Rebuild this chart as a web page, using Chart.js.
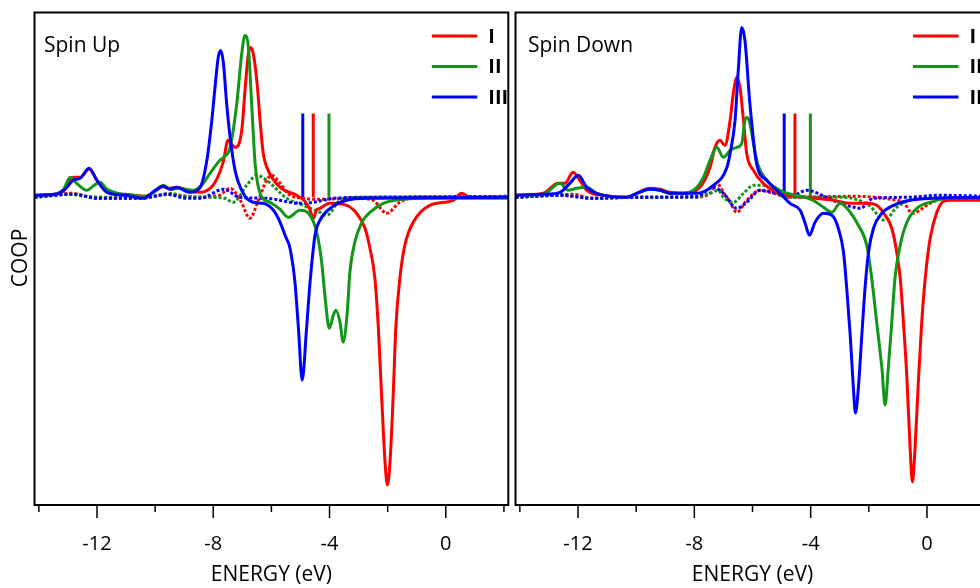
<!DOCTYPE html>
<html>
<head>
<meta charset="utf-8">
<script src="https://cdn.jsdelivr.net/npm/chart.js@4.4.1/dist/chart.umd.min.js"></script>
<style>
  html, body { margin: 0; padding: 0; background: #fff; overflow: hidden; }
  #wrap { position: relative; width: 980px; height: 588px; overflow: hidden; }
  #up { position: absolute; left: 0; top: 0; }
  #down { position: absolute; left: 512px; top: 0; }
</style>
</head>
<body>
<div id="wrap">
  <canvas id="up" width="512" height="588"></canvas>
  <canvas id="down" width="480" height="588"></canvas>
</div>
<script>
// energy (eV), COOP (arb. units)
const seriesNames = ["I", "II", "III"];
const tickLabels = ["-12", "-8", "-4", "0"];

// Spin Up, solid
const upI = [[-14.15,0],[-13.44,0.01],[-13.1,0.06],[-12.82,0.18],[-12.58,0.18],[-12.27,0.26],[-12.0,0.15],[-11.65,0.03],[-11.03,0.01],[-10.35,-0.01],[-10.0,0.04],[-9.73,0.085],[-9.49,0.07],[-9.25,0.08],[-8.8,0.04],[-8.46,0.03],[-8.11,0.07],[-7.9,0.15],[-7.66,0.33],[-7.49,0.55],[-7.25,0.48],[-7.02,0.65],[-6.9,1.08],[-6.79,1.42],[-6.7,1.48],[-6.6,1.38],[-6.48,1.08],[-6.39,0.75],[-6.28,0.42],[-6.11,0.25],[-5.7,0.08],[-5.13,0.0],[-4.85,-0.06],[-4.68,-0.14],[-4.56,-0.23],[-4.45,-0.15],[-4.33,-0.13],[-3.98,-0.08],[-3.41,-0.1],[-3.07,-0.18],[-2.78,-0.33],[-2.61,-0.53],[-2.44,-0.83],[-2.32,-1.33],[-2.21,-2.0],[-2.09,-2.67],[-2.01,-2.9],[-1.92,-2.67],[-1.81,-2.0],[-1.72,-1.33],[-1.58,-0.83],[-1.41,-0.5],[-1.12,-0.27],[-0.55,-0.1],[0.25,-0.05],[0.54,0.02],[0.83,-0.02],[2.15,-0.02]];
const upII = [[-14.15,0],[-13.44,0.01],[-13.15,0.06],[-12.92,0.18],[-12.7,0.12],[-12.35,0.05],[-12.1,0.1],[-11.9,0.13],[-11.65,0.06],[-11.3,0.02],[-10.35,-0.01],[-10.0,0.04],[-9.72,0.1],[-9.45,0.06],[-9.2,0.07],[-8.7,0.05],[-8.4,0.1],[-8.11,0.22],[-7.77,0.35],[-7.65,0.38],[-7.42,0.48],[-7.19,0.92],[-7.02,1.42],[-6.91,1.6],[-6.79,1.48],[-6.68,0.92],[-6.56,0.32],[-6.39,0.02],[-6.05,-0.07],[-5.7,-0.14],[-5.42,-0.22],[-5.02,-0.15],[-4.67,-0.2],[-4.44,-0.37],[-4.27,-0.67],[-4.16,-1.0],[-4.01,-1.33],[-3.87,-1.2],[-3.78,-1.15],[-3.64,-1.27],[-3.53,-1.47],[-3.39,-1.17],[-3.3,-0.77],[-3.13,-0.47],[-2.89,-0.27],[-2.61,-0.17],[-2.15,-0.08],[-1.46,-0.04],[-0.55,-0.03],[2.15,-0.03]];
const upIII = [[-14.15,0],[-13.44,0.01],[-13.1,0.06],[-12.82,0.15],[-12.58,0.17],[-12.27,0.27],[-12.0,0.15],[-11.65,0.03],[-11.03,0.0],[-10.4,-0.03],[-10.0,0.05],[-9.73,0.09],[-9.49,0.06],[-9.27,0.08],[-8.8,0.03],[-8.45,0.08],[-8.22,0.35],[-8.05,0.75],[-7.94,1.08],[-7.83,1.38],[-7.74,1.45],[-7.65,1.32],[-7.54,0.92],[-7.42,0.58],[-7.25,0.25],[-6.97,0.02],[-6.62,-0.07],[-6.28,-0.08],[-5.93,-0.15],[-5.7,-0.27],[-5.53,-0.4],[-5.36,-0.53],[-5.19,-0.87],[-5.07,-1.33],[-4.94,-1.85],[-4.79,-1.33],[-4.67,-0.87],[-4.5,-0.4],[-4.33,-0.25],[-3.98,-0.13],[-3.41,-0.05],[-2.61,-0.03],[2.15,-0.02]];
// Spin Up, dotted
const upIdot = [[-14.15,-0.02],[-12.9,0.02],[-12.0,-0.03],[-10.5,-0.03],[-9.5,0.01],[-8.5,-0.02],[-7.8,0.0],[-7.42,0.07],[-7.05,-0.06],[-6.74,-0.23],[-6.45,-0.05],[-6.2,0.13],[-5.99,0.2],[-5.7,0.12],[-5.4,0.01],[-4.9,-0.03],[-4.5,-0.04],[-3.0,-0.03],[-2.5,-0.05],[-2.04,-0.18],[-1.58,-0.07],[-1.0,-0.02],[2.15,-0.02]];
const upIIdot = [[-14.15,-0.02],[-12.9,0.01],[-12.4,-0.01],[-11.0,-0.02],[-10.0,-0.01],[-9.5,0.02],[-9.0,-0.01],[-8.0,-0.02],[-7.6,-0.03],[-7.31,-0.07],[-6.85,0.1],[-6.5,0.2],[-6.16,0.15],[-5.47,-0.03],[-4.9,-0.1],[-4.33,-0.17],[-4.1,-0.2],[-3.64,-0.05],[-3.0,-0.02],[2.15,-0.02]];
const upIIIdot = [[-14.15,-0.02],[-12.8,0.01],[-12.0,-0.03],[-10.5,-0.03],[-9.6,0.01],[-8.9,-0.03],[-8.45,-0.03],[-7.65,0.06],[-7.08,-0.02],[-6.16,-0.03],[-5.02,-0.08],[-4.56,-0.07],[-3.87,-0.03],[-2.72,-0.02],[2.15,-0.01]];
// Spin Down, solid
const dnI = [[-14.15,0],[-13.2,0.02],[-12.68,0.12],[-12.45,0.12],[-12.17,0.23],[-11.94,0.15],[-11.7,0.05],[-11.13,0.0],[-10.33,-0.02],[-9.98,0.02],[-9.53,0.07],[-9.18,0.06],[-8.84,0.03],[-8.38,0.02],[-7.81,0.08],[-7.46,0.28],[-7.29,0.48],[-7.12,0.55],[-6.95,0.5],[-6.77,0.75],[-6.66,1.02],[-6.54,1.18],[-6.43,1.08],[-6.31,0.75],[-6.2,0.42],[-5.97,0.25],[-5.63,0.12],[-5.05,0.02],[-4.71,0.0],[-3.22,-0.05],[-2.64,-0.08],[-2.07,-0.08],[-1.73,-0.1],[-1.44,-0.2],[-1.21,-0.33],[-1.04,-0.57],[-0.92,-0.83],[-0.81,-1.27],[-0.69,-1.83],[-0.58,-2.53],[-0.5,-2.87],[-0.41,-2.53],[-0.29,-1.83],[-0.18,-1.27],[-0.06,-0.83],[0.11,-0.43],[0.34,-0.17],[0.57,-0.06],[0.8,-0.05],[2.15,-0.05]];
const dnII = [[-14.15,0],[-13.2,0.01],[-12.62,0.12],[-12.34,0.05],[-12.05,0.07],[-11.7,0.08],[-11.36,0.02],[-10.33,-0.02],[-9.98,0.02],[-9.53,0.06],[-9.18,0.05],[-8.84,0.02],[-8.38,0.02],[-7.95,0.07],[-7.69,0.18],[-7.46,0.35],[-7.23,0.48],[-7.0,0.38],[-6.77,0.45],[-6.54,0.48],[-6.37,0.52],[-6.26,0.75],[-6.18,0.78],[-6.09,0.72],[-5.97,0.52],[-5.83,0.32],[-5.51,0.15],[-5.05,0.05],[-3.91,-0.05],[-3.56,-0.12],[-3.27,-0.17],[-2.99,-0.08],[-2.64,-0.17],[-2.36,-0.3],[-2.07,-0.5],[-1.9,-0.83],[-1.73,-1.27],[-1.55,-1.73],[-1.44,-2.1],[-1.33,-1.73],[-1.21,-1.27],[-1.1,-0.83],[-0.92,-0.5],[-0.69,-0.27],[-0.35,-0.13],[0.22,-0.06],[0.68,-0.03],[2.15,-0.02]];
const dnIII = [[-14.15,0],[-13.2,0.01],[-12.62,0.03],[-12.28,0.12],[-11.99,0.2],[-11.7,0.08],[-11.36,0.02],[-10.33,-0.02],[-9.98,0.02],[-9.53,0.06],[-9.18,0.05],[-8.84,0.02],[-7.92,0.02],[-7.35,0.1],[-6.89,0.27],[-6.77,0.42],[-6.6,0.75],[-6.49,1.25],[-6.37,1.68],[-6.26,1.55],[-6.09,0.92],[-5.86,0.32],[-5.51,0.15],[-5.05,0.02],[-4.71,-0.08],[-4.36,-0.15],[-4.19,-0.28],[-4.04,-0.4],[-3.85,-0.27],[-3.56,-0.18],[-3.27,-0.2],[-3.05,-0.33],[-2.87,-0.57],[-2.76,-0.93],[-2.64,-1.4],[-2.53,-1.93],[-2.46,-2.18],[-2.36,-1.93],[-2.24,-1.4],[-2.13,-0.93],[-2.01,-0.57],[-1.84,-0.33],[-1.55,-0.18],[-1.15,-0.1],[-0.58,-0.05],[0.22,-0.03],[2.15,-0.02]];
// Spin Down, dotted
const dnIdot = [[-14.15,-0.02],[-12.9,0.0],[-12.2,0.01],[-11.5,-0.03],[-10.0,-0.02],[-8.0,-0.02],[-7.46,0.02],[-7.23,0.12],[-7.0,0.03],[-6.77,-0.07],[-6.54,-0.17],[-6.2,-0.05],[-5.74,0.05],[-5.28,0.02],[-4.71,-0.02],[-2.5,-0.01],[-1.04,-0.05],[-0.81,-0.07],[-0.5,-0.18],[0.11,-0.08],[0.5,-0.04],[2.15,-0.03]];
const dnIIdot = [[-14.15,-0.02],[-12.6,0.0],[-11.5,-0.03],[-10.0,-0.02],[-8.0,-0.02],[-7.46,0.02],[-7.18,0.05],[-7.0,-0.02],[-6.66,-0.07],[-6.31,0.02],[-5.97,0.1],[-5.63,0.1],[-5.4,0.07],[-4.82,-0.02],[-2.87,-0.02],[-2.0,-0.1],[-1.45,-0.25],[-1.04,-0.12],[-0.24,-0.03],[2.15,-0.02]];
const dnIIIdot = [[-14.15,-0.02],[-12.6,0.0],[-11.5,-0.03],[-10.0,-0.02],[-7.9,-0.01],[-7.35,0.08],[-7.0,0.02],[-6.54,-0.13],[-6.2,-0.07],[-5.74,0.05],[-5.28,0.03],[-4.6,0.0],[-4.14,0.05],[-3.45,-0.02],[-2.99,-0.08],[-2.5,-0.12],[-2.3,-0.13],[-1.84,-0.03],[-0.69,-0.02],[0.45,0.0],[2.15,-0.01]];

// vertical markers (energy positions), I, II, III
const upMarks = [-4.56, -4.02, -4.92];
const dnMarks = [-4.54, -4.01, -4.91];
const markRange = [-0.02, 0.82];

const colors = ["#ff0000", "#12961a", "#0000ff"];

function line(data, color, dotted) {
  return {
    data: data,
    borderColor: color,
    borderWidth: 3,
    borderDash: dotted ? [3, 2] : [],
    pointRadius: 0,
    fill: false,
    cubicInterpolationMode: "monotone"
  };
}

function buildSets(solid, dotted, marks) {
  const sets = [];
  for (let i = 2; i >= 0; i--) sets.push(line(solid[i], colors[i], false));
  for (let i = 2; i >= 0; i--) sets.push(line(dotted[i], colors[i], true));
  for (let i = 0; i < 3; i++) {
    sets.push(line([[marks[i], markRange[0]], [marks[i], markRange[1]]], colors[i], false));
  }
  return sets;
}

const panelDeco = {
  id: "panelDeco",
  afterDraw(chart, args, opts) {
    const { ctx, chartArea: a, scales: { x } } = chart;
    ctx.save();
    ctx.strokeStyle = "#000";
    ctx.lineWidth = 2;
    ctx.strokeRect(a.left, a.top, a.right - a.left, a.bottom - a.top);
    ctx.lineWidth = 1.5;
    x.ticks.forEach(t => {
      const px = x.getPixelForValue(t.value);
      const len = t.value % 4 === 0 ? 13 : 7;
      ctx.beginPath();
      ctx.moveTo(px, a.bottom);
      ctx.lineTo(px, a.bottom + len);
      ctx.stroke();
    });

    // legend
    const ly = [36, 66.5, 97];
    ctx.lineWidth = 3;
    ctx.font = "bold 20px 'Open Sans'";
    ctx.fillStyle = "#000";
    ctx.textBaseline = "middle";
    ctx.textAlign = "left";
    for (let i = 0; i < 3; i++) {
      ctx.strokeStyle = colors[i];
      ctx.beginPath();
      ctx.moveTo(a.right - 76.5, ly[i]);
      ctx.lineTo(a.right - 31, ly[i]);
      ctx.stroke();
      ctx.fillText(seriesNames[i], a.right - 20, ly[i] + 1);
    }

    ctx.font = "21px 'Open Sans'";
    ctx.textBaseline = "alphabetic";
    ctx.fillText(opts.title, a.left + opts.titleX, 51.5);

    if (opts.coop) {
      ctx.translate(26.5, 258);
      ctx.rotate(-Math.PI / 2);
      ctx.textAlign = "center";
      ctx.fillText("COOP", 0, 0);
    }
    ctx.restore();
  }
};

function makeChart(id, solid, dotted, marks, pad, title, titleX, coop) {
  return new Chart(document.getElementById(id), {
    type: "line",
    data: { datasets: buildSets(solid, dotted, marks) },
    plugins: [panelDeco],
    options: {
      responsive: false,
      animation: false,
      layout: { padding: pad },
      plugins: {
        legend: { display: false },
        tooltip: { enabled: false },
        panelDeco: { title: title, titleX: titleX, coop: coop }
      },
      scales: {
        x: {
          type: "linear",
          min: -14.15,
          max: 2.15,
          grid: { display: false, drawTicks: false },
          border: { display: false },
          ticks: {
            stepSize: 2,
            includeBounds: false,
            autoSkip: false,
            maxRotation: 0,
            padding: 27,
            color: "#000",
            font: { family: "'Open Sans'", size: 20 },
            callback: v => (tickLabels.includes(String(v)) ? String(v) : "")
          },
          title: {
            display: true,
            text: "ENERGY (eV)",
            color: "#000",
            font: { family: "'Open Sans'", size: 21 },
            padding: 0
          },
          afterFit: s => {
            s.height = 83;
            s.paddingLeft = 0;
            s.paddingRight = 0;
          }
        },
        y: { display: false, min: -3.1, max: 1.83 }
      }
    }
  });
}

makeChart("up", [upI, upII, upIII], [upIdot, upIIdot, upIIIdot], upMarks,
  { left: 34.5, right: 3.7, top: 12.5, bottom: 0 }, "Spin Up", 9.5, true);
makeChart("down", [dnI, dnII, dnIII], [dnIdot, dnIIdot, dnIIIdot], dnMarks,
  { left: 3.5, right: 2.5, top: 12.5, bottom: 0 }, "Spin Down", 12.5, false);
</script>
</body>
</html>
